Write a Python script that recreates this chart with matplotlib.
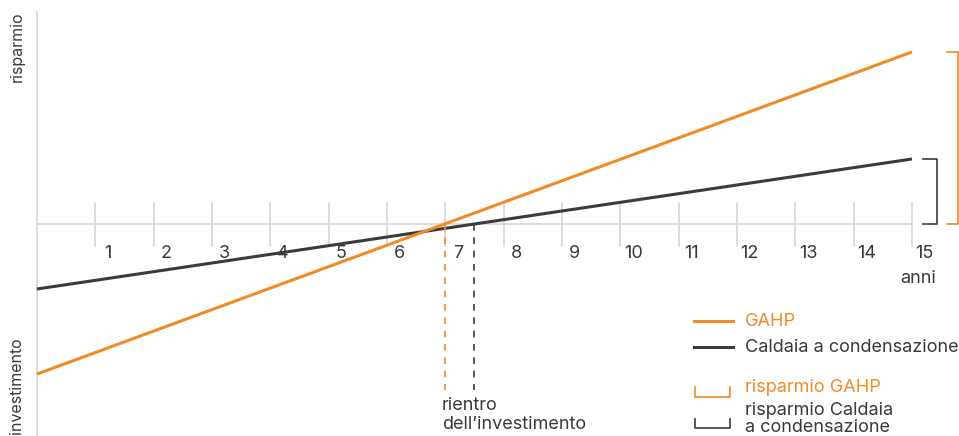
import numpy as np
import matplotlib.pyplot as plt

plt.rcParams['font.family'] = ['Inter', 'DejaVu Sans']

# data
anni = list(range(0, 16))
tick_anni = list(range(1, 16))
gahp_start, gahp_end = -150, 172
caldaia_start, caldaia_end = -65, 65
rientro_gahp = 6.99
rientro_caldaia = 7.5

orange = '#F28A25'
dark = '#3b3b3b'
grey = '#d6d6d6'
text_col = '#3a3a3a'
fs = 13

W, H = 959, 436
fig = plt.figure(figsize=(W / 100, H / 100), dpi=100)
ax = fig.add_axes([0, 0, 1, 1])
ax.set_axis_off()

# pixel helpers: x axis 0 at px 37, 58.33 px per year; y zero at py 224
x0, step, y0 = 37, 58.33, 224
ax.set_xlim(-x0 / step, (W - x0) / step)
ax.set_ylim(y0 - H, y0)


def px(x, y):
    return (x - x0) / step, y0 - y


gahp = np.linspace(gahp_start, gahp_end, len(anni))
caldaia = np.linspace(caldaia_start, caldaia_end, len(anni))

# axes
ax.plot([0, 0], [y0 - H, y0 - 12], color=grey, lw=1.2)
ax.plot([0, 15], [0, 0], color=grey, lw=1.2)
for t in tick_anni:
    ax.plot([t, t], [21, -22], color=grey, lw=1.2)
    ax.text(t + 0.22, -29, str(t), ha='center', va='center', fontsize=fs, color=text_col)
ax.text(*px(918, 278), 'anni', ha='center', va='center', fontsize=fs, color=text_col)

ax.text(*px(17, 47), 'risparmio', rotation=90, ha='center', va='center', fontsize=11.5, color=text_col)
ax.text(*px(17, 386), 'investimento', rotation=90, ha='center', va='center', fontsize=11.5, color=text_col)

# lines
ax.plot(anni, caldaia, color=dark, lw=2.2, solid_capstyle='butt')
ax.plot(anni, gahp, color=orange, lw=2.2, solid_capstyle='butt')

# rientro
ax.plot([rientro_gahp, rientro_gahp], [0, y0 - 390], color=orange, lw=1.2, ls=(0, (4, 4)))
ax.plot([rientro_caldaia, rientro_caldaia], [0, y0 - 390], color=dark, lw=1.2, ls=(0, (4, 4)))
ax.text(*px(442, 405), 'rientro', ha='left', va='center', fontsize=fs, color=text_col)
ax.text(*px(442, 424), 'dell\u2019investimento', ha='left', va='center', fontsize=fs, color=text_col)

# brackets on the right
bx = [px(947, 0)[0], px(958, 0)[0], px(958, 0)[0], px(947, 0)[0]]
ax.plot(bx, [gahp_end, gahp_end, 0, 0], color=orange, lw=1.2)
bx = [px(923, 0)[0], px(937, 0)[0], px(937, 0)[0], px(923, 0)[0]]
ax.plot(bx, [caldaia_end, caldaia_end, 0, 0], color=dark, lw=1.2)

# legend
ax.plot(*zip(px(694, 321), px(733, 321)), color=orange, lw=2.2)
ax.text(*px(745, 321), 'GAHP', ha='left', va='center', fontsize=fs, color=orange)
ax.plot(*zip(px(694, 347), px(733, 347)), color=dark, lw=2.2)
ax.text(*px(745, 347), 'Caldaia a condensazione', ha='left', va='center', fontsize=fs, color=text_col)

ax.plot(*zip(px(695, 387), px(695, 397), px(730, 397), px(730, 387)), color=orange, lw=1.2)
ax.text(*px(745, 387), 'risparmio GAHP', ha='left', va='center', fontsize=fs, color=orange)
ax.plot(*zip(px(695, 419), px(695, 428), px(730, 428), px(730, 419)), color=dark, lw=1.2)
ax.text(*px(745, 410), 'risparmio Caldaia', ha='left', va='center', fontsize=fs, color=text_col)
ax.text(*px(745, 427), 'a condensazione', ha='left', va='center', fontsize=fs, color=text_col)

fig.savefig('out.png', dpi=100)
